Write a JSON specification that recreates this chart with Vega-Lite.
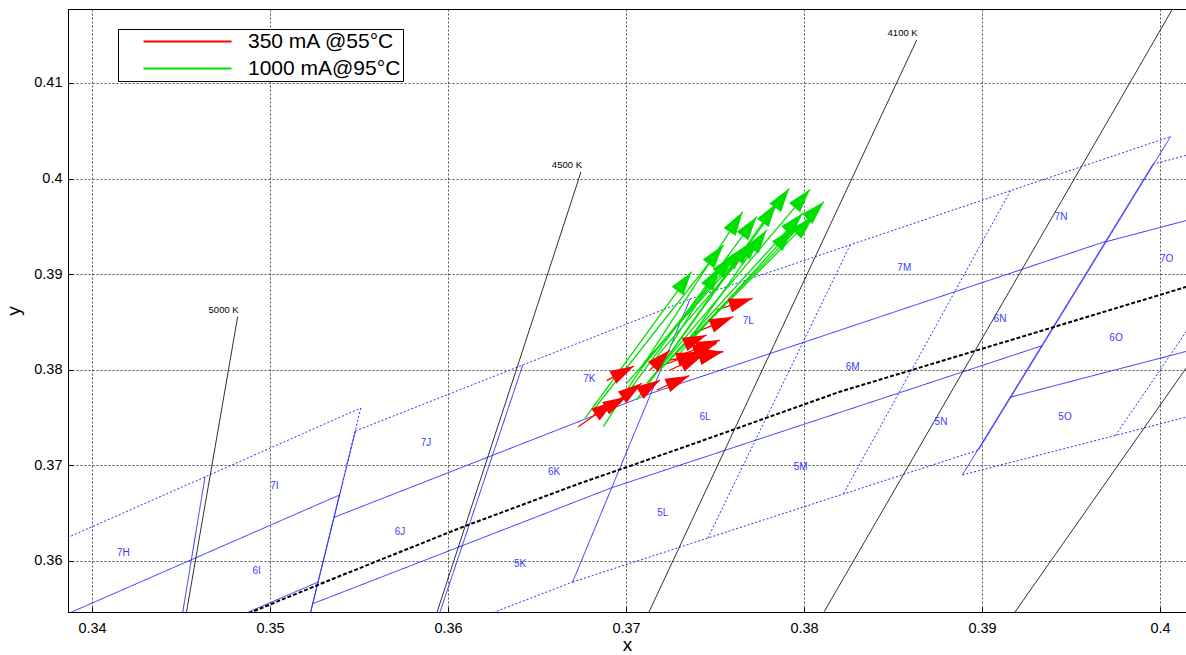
{
  "$schema": "https://vega.github.io/schema/vega-lite/v6.json",
  "width": 1118,
  "height": 603,
  "autosize": "none",
  "padding": {"left": 68, "top": 9, "right": 0, "bottom": 43},
  "background": "white",
  "config": {
    "font": "Liberation Sans",
    "view": {"stroke": "black", "strokeWidth": 1},
    "axis": {
      "domainColor": "black", "domainWidth": 1,
      "tickColor": "black", "tickSize": -5, "tickWidth": 1,
      "labelColor": "black", "labelFontSize": 14.5, "labelFont": "Liberation Sans",
      "gridColor": "black", "gridDash": [2, 2], "gridOpacity": 0.85, "gridWidth": 0.8,
      "titleColor": "black", "titleFontSize": 19, "titleFontWeight": "normal", "titleFont": "Liberation Sans"
    }
  },
  "datasets": {
    "bins": [
      {"x": 0.3376, "y": 0.3616, "x2": 0.3551, "y2": 0.376, "line": "edge"},
      {"x": 0.3551, "y": 0.376, "x2": 0.3539, "y2": 0.3669, "line": "edge"},
      {"x": 0.3539, "y": 0.3669, "x2": 0.3515, "y2": 0.3487, "line": "split"},
      {"x": 0.337267, "y": 0.353367, "x2": 0.3539, "y2": 0.3669, "line": "split"},
      {"x": 0.336933, "y": 0.345133, "x2": 0.3527, "y2": 0.3578, "line": "split"},
      {"x": 0.34635, "y": 0.3688, "x2": 0.34405, "y2": 0.3428, "line": "split"},
      {"x": 0.3548, "y": 0.3736, "x2": 0.3736, "y2": 0.3874, "line": "edge"},
      {"x": 0.3512, "y": 0.3465, "x2": 0.367, "y2": 0.3578, "line": "edge"},
      {"x": 0.3512, "y": 0.3465, "x2": 0.3548, "y2": 0.3736, "line": "split"},
      {"x": 0.367, "y": 0.3578, "x2": 0.3736, "y2": 0.3874, "line": "split"},
      {"x": 0.3536, "y": 0.364567, "x2": 0.3714, "y2": 0.377533, "line": "split"},
      {"x": 0.3524, "y": 0.355533, "x2": 0.3692, "y2": 0.367667, "line": "split"},
      {"x": 0.3642, "y": 0.3805, "x2": 0.3591, "y2": 0.35215, "line": "split"},
      {"x": 0.3736, "y": 0.3874, "x2": 0.4006, "y2": 0.4044, "line": "edge"},
      {"x": 0.367, "y": 0.3578, "x2": 0.3898, "y2": 0.3716, "line": "edge"},
      {"x": 0.3898, "y": 0.3716, "x2": 0.4006, "y2": 0.4044, "line": "split"},
      {"x": 0.3714, "y": 0.377533, "x2": 0.397, "y2": 0.393467, "line": "split"},
      {"x": 0.3692, "y": 0.367667, "x2": 0.3934, "y2": 0.382533, "line": "split"},
      {"x": 0.3826, "y": 0.393067, "x2": 0.3746, "y2": 0.3624, "line": "edge"},
      {"x": 0.3916, "y": 0.398733, "x2": 0.3822, "y2": 0.367, "line": "edge"},
      {"x": 0.3996, "y": 0.4015, "x2": 0.4299, "y2": 0.4165, "line": "edge"},
      {"x": 0.3889, "y": 0.369, "x2": 0.4147, "y2": 0.3814, "line": "edge"},
      {"x": 0.3889, "y": 0.369, "x2": 0.3996, "y2": 0.4015, "line": "split"},
      {"x": 0.396925, "y": 0.393375, "x2": 0.4261, "y2": 0.407725, "line": "split"},
      {"x": 0.391575, "y": 0.377125, "x2": 0.4185, "y2": 0.390175, "line": "split"},
      {"x": 0.4097, "y": 0.4065, "x2": 0.3975, "y2": 0.373133, "line": "edge"}
    ],
    "iso": [
      {"cct": "5000 K", "x": 0.348185, "y": 0.385554, "x2": 0.345061, "y2": 0.352},
      {"cct": "4500 K", "x": 0.367472, "y": 0.40069, "x2": 0.35892, "y2": 0.352},
      {"cct": "4100 K", "x": 0.386331, "y": 0.414487, "x2": 0.370622, "y2": 0.352},
      {"cct": "", "x": 0.401404, "y": 0.42, "x2": 0.380297, "y2": 0.352},
      {"cct": "", "x": 0.404, "y": 0.386894, "x2": 0.39085, "y2": 0.352}
    ],
    "planck": [
      {"x": 0.34786, "y": 0.353828},
      {"x": 0.349253, "y": 0.354874},
      {"x": 0.353371, "y": 0.358013},
      {"x": 0.360674, "y": 0.363452},
      {"x": 0.367416, "y": 0.368128},
      {"x": 0.370225, "y": 0.369937},
      {"x": 0.374157, "y": 0.3725},
      {"x": 0.382022, "y": 0.377709},
      {"x": 0.389702, "y": 0.382029},
      {"x": 0.401461, "y": 0.388661},
      {"x": 0.402247, "y": 0.3891}
    ],
    "binlabels": [
      {"bin": "7H", "x": 0.341758, "y": 0.360868},
      {"bin": "7I", "x": 0.350242, "y": 0.367845},
      {"bin": "6I", "x": 0.349253, "y": 0.358954},
      {"bin": "7J", "x": 0.358764, "y": 0.372312},
      {"bin": "6J", "x": 0.357303, "y": 0.363065},
      {"bin": "5K", "x": 0.364045, "y": 0.359686},
      {"bin": "6K", "x": 0.365955, "y": 0.369341},
      {"bin": "7K", "x": 0.367938, "y": 0.379038},
      {"bin": "5L", "x": 0.372062, "y": 0.36499},
      {"bin": "6L", "x": 0.374438, "y": 0.375031},
      {"bin": "7L", "x": 0.376871, "y": 0.385105},
      {"bin": "5M", "x": 0.379815, "y": 0.369801},
      {"bin": "6M", "x": 0.382736, "y": 0.380262},
      {"bin": "7M", "x": 0.385635, "y": 0.390617},
      {"bin": "5N", "x": 0.387697, "y": 0.374508},
      {"bin": "6N", "x": 0.391011, "y": 0.385314},
      {"bin": "7N", "x": 0.394438, "y": 0.396015},
      {"bin": "5O", "x": 0.394663, "y": 0.375031},
      {"bin": "6O", "x": 0.397528, "y": 0.383295},
      {"bin": "7O", "x": 0.400376, "y": 0.391559}
    ],
    "arrows": [
      {"series": "350 mA @55°C", "x": 0.367322, "y": 0.374052, "x2": 0.369382, "y2": 0.376772},
      {"series": "350 mA @55°C", "x": 0.368165, "y": 0.375272, "x2": 0.370037, "y2": 0.377189},
      {"series": "350 mA @55°C", "x": 0.368914, "y": 0.378864, "x2": 0.370449, "y2": 0.380398},
      {"series": "350 mA @55°C", "x": 0.369569, "y": 0.376841, "x2": 0.37088, "y2": 0.378585},
      {"series": "350 mA @55°C", "x": 0.37088, "y": 0.377713, "x2": 0.37191, "y2": 0.378933},
      {"series": "350 mA @55°C", "x": 0.371723, "y": 0.377887, "x2": 0.373558, "y2": 0.379387},
      {"series": "350 mA @55°C", "x": 0.371348, "y": 0.379979, "x2": 0.372472, "y2": 0.382072},
      {"series": "350 mA @55°C", "x": 0.372097, "y": 0.380503, "x2": 0.374157, "y2": 0.381897},
      {"series": "350 mA @55°C", "x": 0.37247, "y": 0.379979, "x2": 0.374344, "y2": 0.381549},
      {"series": "350 mA @55°C", "x": 0.372472, "y": 0.381026, "x2": 0.375468, "y2": 0.381897},
      {"series": "350 mA @55°C", "x": 0.373034, "y": 0.380677, "x2": 0.375431, "y2": 0.381897},
      {"series": "350 mA @55°C", "x": 0.372846, "y": 0.381374, "x2": 0.375281, "y2": 0.383118},
      {"series": "350 mA @55°C", "x": 0.373408, "y": 0.381549, "x2": 0.375093, "y2": 0.382769},
      {"series": "350 mA @55°C", "x": 0.373221, "y": 0.382595, "x2": 0.374532, "y2": 0.383641},
      {"series": "350 mA @55°C", "x": 0.373783, "y": 0.383815, "x2": 0.37603, "y2": 0.385558},
      {"series": "350 mA @55°C", "x": 0.375093, "y": 0.386256, "x2": 0.377116, "y2": 0.387476},
      {"series": "1000 mA@95°C", "x": 0.367696, "y": 0.374924, "x2": 0.373689, "y2": 0.390265},
      {"series": "1000 mA@95°C", "x": 0.368726, "y": 0.374052, "x2": 0.376554, "y2": 0.396542},
      {"series": "1000 mA@95°C", "x": 0.368165, "y": 0.375795, "x2": 0.375468, "y2": 0.393055},
      {"series": "1000 mA@95°C", "x": 0.369663, "y": 0.376493, "x2": 0.377341, "y2": 0.396019},
      {"series": "1000 mA@95°C", "x": 0.370037, "y": 0.378585, "x2": 0.376685, "y2": 0.39288},
      {"series": "1000 mA@95°C", "x": 0.370599, "y": 0.376841, "x2": 0.379176, "y2": 0.398982},
      {"series": "1000 mA@95°C", "x": 0.371161, "y": 0.378585, "x2": 0.380337, "y2": 0.398878},
      {"series": "1000 mA@95°C", "x": 0.370786, "y": 0.379979, "x2": 0.37603, "y2": 0.392009},
      {"series": "1000 mA@95°C", "x": 0.371535, "y": 0.379282, "x2": 0.378464, "y2": 0.397413},
      {"series": "1000 mA@95°C", "x": 0.37191, "y": 0.379979, "x2": 0.379925, "y2": 0.396367},
      {"series": "1000 mA@95°C", "x": 0.372285, "y": 0.380677, "x2": 0.381123, "y2": 0.397588},
      {"series": "1000 mA@95°C", "x": 0.371723, "y": 0.381374, "x2": 0.377528, "y2": 0.393927},
      {"series": "1000 mA@95°C", "x": 0.372846, "y": 0.381374, "x2": 0.379401, "y2": 0.394798},
      {"series": "1000 mA@95°C", "x": 0.372472, "y": 0.38242, "x2": 0.375281, "y2": 0.390788},
      {"series": "1000 mA@95°C", "x": 0.373783, "y": 0.383466, "x2": 0.380524, "y2": 0.396019},
      {"series": "1000 mA@95°C", "x": 0.373408, "y": 0.382769, "x2": 0.377902, "y2": 0.394624},
      {"series": "1000 mA@95°C", "x": 0.370974, "y": 0.380677, "x2": 0.377153, "y2": 0.393403}
    ]
  },
  "layer": [
    {
      "data": {"name": "bins"},
      "mark": {"type": "rule", "clip": true, "strokeWidth": 1, "color": "#2b2bff"},
      "encoding": {
        "x": {"field": "x", "type": "quantitative", "title": "x", "scale": {"domain": [0.338652, 0.401461], "nice": false, "zero": false}, "axis": {"values": [0.34, 0.35, 0.36, 0.37, 0.38, 0.39, 0.4], "format": "~g", "labelPadding": 14, "titlePadding": 1}},
        "y": {"field": "y", "type": "quantitative", "title": "y", "scale": {"domain": [0.354665, 0.41774], "nice": false, "zero": false}, "axis": {"values": [0.36, 0.37, 0.38, 0.39, 0.4, 0.41], "format": "~g", "labelPadding": 11, "titlePadding": 10}},
        "x2": {"field": "x2"},
        "y2": {"field": "y2"},
        "strokeDash": {"field": "line", "type": "nominal", "scale": {"domain": ["edge", "split"], "range": [[2, 2], [1, 0]]}, "legend": null}
      }
    },
    {
      "data": {"name": "iso"},
      "mark": {"type": "rule", "clip": true, "strokeWidth": 0.9, "color": "#1a1a1a"},
      "encoding": {
        "x": {"field": "x", "type": "quantitative", "title": "x", "scale": {"domain": [0.338652, 0.401461], "nice": false, "zero": false}},
        "y": {"field": "y", "type": "quantitative", "title": "y", "scale": {"domain": [0.354665, 0.41774], "nice": false, "zero": false}},
        "x2": {"field": "x2"},
        "y2": {"field": "y2"}
      }
    },
    {
      "data": {"name": "planck"},
      "mark": {"type": "line", "clip": true, "strokeWidth": 2, "color": "black", "strokeDash": [4, 2]},
      "encoding": {
        "x": {"field": "x", "type": "quantitative", "title": "x", "scale": {"domain": [0.338652, 0.401461], "nice": false, "zero": false}},
        "y": {"field": "y", "type": "quantitative", "title": "y", "scale": {"domain": [0.354665, 0.41774], "nice": false, "zero": false}}
      }
    },
    {
      "data": {"name": "iso"},
      "transform": [{"filter": "datum.cct != ''"}],
      "mark": {"type": "text", "clip": true, "align": "right", "baseline": "bottom", "dx": 1, "dy": -2, "fontSize": 9.5, "color": "black"},
      "encoding": {
        "x": {"field": "x", "type": "quantitative", "title": "x", "scale": {"domain": [0.338652, 0.401461], "nice": false, "zero": false}},
        "y": {"field": "y", "type": "quantitative", "title": "y", "scale": {"domain": [0.354665, 0.41774], "nice": false, "zero": false}},
        "text": {"field": "cct"}
      }
    },
    {
      "data": {"name": "binlabels"},
      "mark": {"type": "text", "clip": true, "align": "center", "baseline": "middle", "fontSize": 10, "color": "#3c3cff"},
      "encoding": {
        "x": {"field": "x", "type": "quantitative", "title": "x", "scale": {"domain": [0.338652, 0.401461], "nice": false, "zero": false}},
        "y": {"field": "y", "type": "quantitative", "title": "y", "scale": {"domain": [0.354665, 0.41774], "nice": false, "zero": false}},
        "text": {"field": "bin"}
      }
    },
    {
      "data": {"name": "arrows"},
      "mark": {"type": "rule", "clip": true, "strokeWidth": 1.3},
      "encoding": {
        "x": {"field": "x", "type": "quantitative", "title": "x", "scale": {"domain": [0.338652, 0.401461], "nice": false, "zero": false}},
        "y": {"field": "y", "type": "quantitative", "title": "y", "scale": {"domain": [0.354665, 0.41774], "nice": false, "zero": false}},
        "x2": {"field": "x2"},
        "y2": {"field": "y2"},
        "color": {
          "field": "series", "type": "nominal",
          "scale": {"domain": ["350 mA @55°C", "1000 mA@95°C"], "range": ["#ff0000", "#00e000"]},
          "legend": {
            "title": null, "orient": "none", "legendX": 50, "legendY": 20,
            "symbolType": "stroke", "symbolSize": 7744, "symbolStrokeWidth": 2.2,
            "clipHeight": 21, "labelFontSize": 21, "labelFont": "Liberation Sans", "labelColor": "black",
            "labelOffset": 15, "symbolOffset": 22, "rowPadding": 5, "padding": 2,
            "strokeColor": "black", "fillColor": "white", "labelLimit": 400
          }
        }
      }
    },
    {
      "data": {"name": "arrows"},
      "transform": [{"calculate": "(atan2((datum.x2 - datum.x) * 17800, (datum.y2 - datum.y) * 9560) * 180 / PI + 360) % 360", "as": "heading"}],
      "mark": {"type": "point", "clip": true, "filled": true, "shape": "M0,0L-0.6,2L0.6,2Z", "size": 576, "opacity": 1, "strokeWidth": 0},
      "encoding": {
        "x": {"field": "x2", "type": "quantitative", "title": "x", "scale": {"domain": [0.338652, 0.401461], "nice": false, "zero": false}},
        "y": {"field": "y2", "type": "quantitative", "title": "y", "scale": {"domain": [0.354665, 0.41774], "nice": false, "zero": false}},
        "angle": {"field": "heading", "type": "quantitative", "scale": null},
        "fill": {"field": "series", "type": "nominal", "scale": {"domain": ["350 mA @55°C", "1000 mA@95°C"], "range": ["#ff0000", "#00e000"]}, "legend": null}
      }
    }
  ]
}
